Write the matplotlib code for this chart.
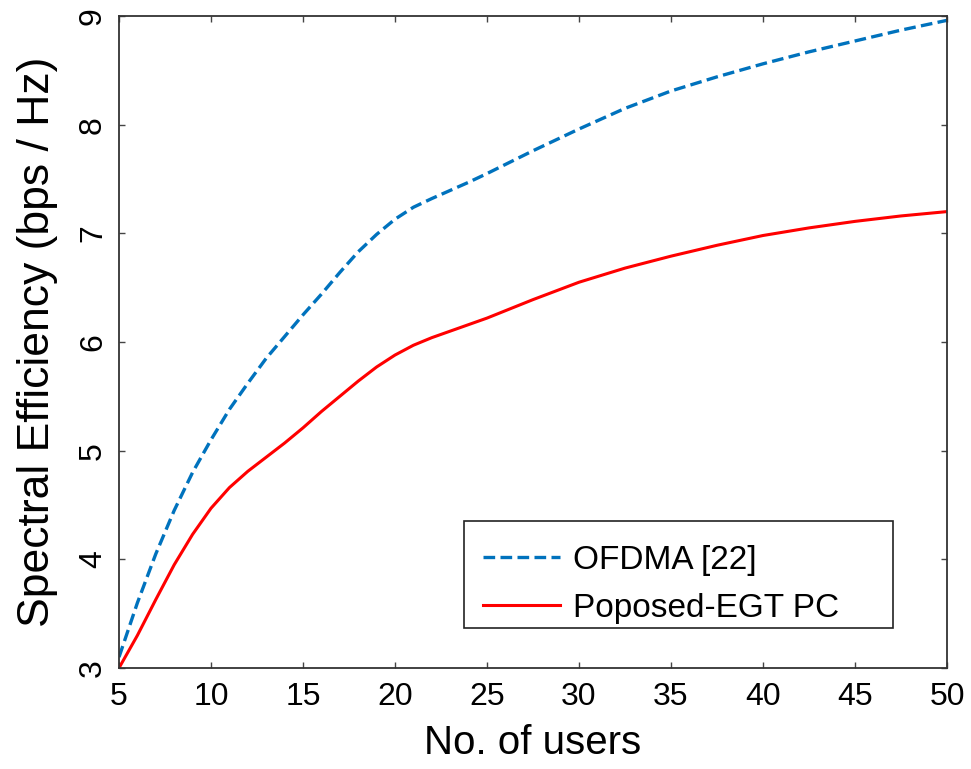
import matplotlib
matplotlib.use("Agg")
import matplotlib.pyplot as plt
from matplotlib.patches import Rectangle

plt.rcParams['font.family'] = ['Liberation Sans', 'DejaVu Sans']

users_ofdma = [5, 6, 7, 8, 9, 10, 11, 12, 13, 14, 15, 16, 17, 18, 19, 20, 21, 22, 23, 24, 25,
               27.5, 30, 32.5, 35, 37.5, 40, 42.5, 45, 47.5, 50]
se_ofdma = [3.1, 3.6, 4.05, 4.45, 4.8, 5.1, 5.38, 5.62, 5.85, 6.05, 6.25, 6.44, 6.64, 6.83, 6.99,
            7.13, 7.24, 7.32, 7.395, 7.47, 7.55, 7.76, 7.96, 8.15, 8.31, 8.44, 8.56, 8.67, 8.77, 8.87, 8.96]

users_egt = [5, 6, 7, 8, 9, 10, 11, 12, 13, 14, 15, 16, 17, 18, 19, 20, 21, 22, 23, 25,
             27.5, 30, 32.5, 35, 37.5, 40, 42.5, 45, 47.5, 50]
se_egt = [3.0, 3.3, 3.63, 3.95, 4.23, 4.47, 4.66, 4.81, 4.94, 5.07, 5.21, 5.36, 5.50, 5.64, 5.77,
          5.88, 5.97, 6.04, 6.10, 6.22, 6.39, 6.55, 6.68, 6.79, 6.89, 6.98, 7.05, 7.11, 7.16, 7.20]

x_ticks = [5, 10, 15, 20, 25, 30, 35, 40, 45, 50]
y_ticks = [3, 4, 5, 6, 7, 8, 9]

fig = plt.figure(figsize=(9.71, 7.69), dpi=100)
ax = fig.add_axes([119/971, 1-668/769, (947-119)/971, (668-16)/769])

ax.plot(users_ofdma, se_ofdma, color='#0072BD', lw=2.4, dashes=(3.5, 1.6), label='OFDMA [22]')
ax.plot(users_egt, se_egt, color='#FF0000', lw=2.2, label='Poposed-EGT PC')

ax.set_xlim(5, 50)
ax.set_ylim(3, 9)
ax.set_xticks(x_ticks)
ax.set_yticks(y_ticks)
ax.tick_params(direction='in', length=4, width=1, top=True, right=True,
               labelsize=23, color='#444444')
for lbl in ax.get_yticklabels():
    lbl.set_rotation(90)
    lbl.set_va('center')
ax.tick_params(axis='x', pad=10)
ax.tick_params(axis='y', pad=8)
for s in ax.spines.values():
    s.set_color('#333333')
    s.set_linewidth(1.3)

ax.set_xlabel('No. of users', fontsize=29, labelpad=9)
ax.set_ylabel('Spectral Efficiency (bps / Hz)', fontsize=32, labelpad=14)

# legend frame drawn in figure pixels
frame = Rectangle((464/971, 1-628/769), (893-464)/971, (628-521)/769,
                  transform=fig.transFigure, facecolor='white',
                  edgecolor='#222222', linewidth=1.2, zorder=4, clip_on=False)
ax.add_patch(frame)
leg = ax.legend(loc='upper left', bbox_to_anchor=(473/971, 1-535/769), bbox_transform=fig.transFigure,
                fontsize=24, handlelength=2.3, handletextpad=0.4, borderpad=0.3, borderaxespad=0,
                labelspacing=0.5, frameon=False)
leg.set_zorder(6)

fig.savefig('out.png', dpi=100)
